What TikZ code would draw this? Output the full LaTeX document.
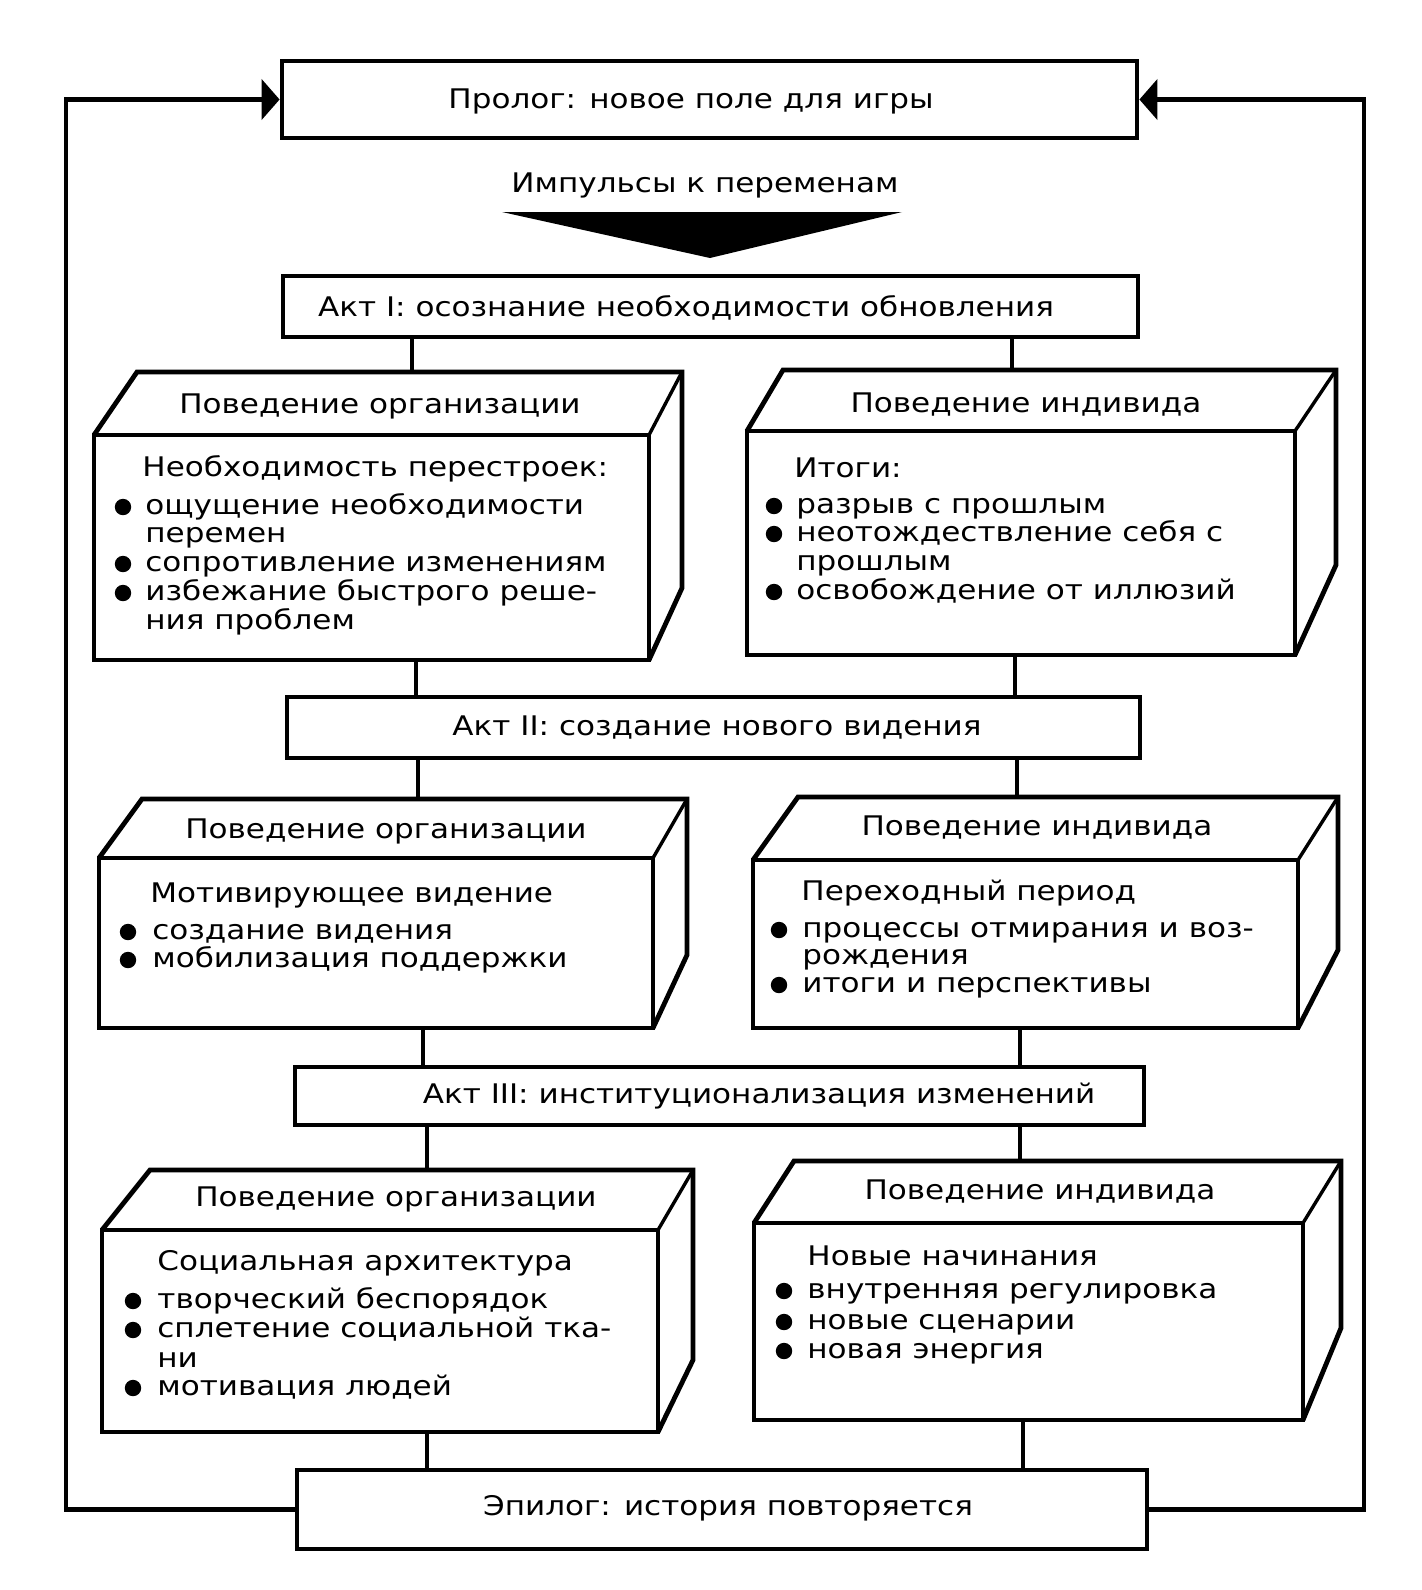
\documentclass[tikz,border=0pt]{standalone}
\usepackage{fontspec}
\setmainfont{DejaVu Sans}[FakeStretch=1.15]
\usetikzlibrary{arrows.meta}
\tikzset{
  frame/.style={draw, line width=2.4pt, inner sep=0pt},
  edgein/.style={line width=1.7pt},
  edgeout/.style={line width=2.4pt, line join=miter},
  link/.style={line width=2.4pt},
  loop/.style={line width=2.4pt, line join=miter, -{Triangle[length=9pt,width=20pt]}},
  txt/.style={inner sep=0pt, font=\fontsize{13.5}{16}\selectfont},
  bul/.style={fill=black}
}
% name, x1, y1, x2, y2 (front face), back top y, back left x, back right x, back right bottom y
\newcommand\tdbox[9]{%
  \node[frame, minimum width={(#4-#2)*0.5pt}, minimum height={(#5-#3)*0.5pt}] (#1) at ({(#2+#4)/2},{(#3+#5)/2}) {};
  \draw[edgeout] (#2,#3) -- (#7,#6) -- (#8,#6) -- (#8,#9) -- (#4,#5);
  \draw[edgein] (#4,#3) -- (#8,#6);
}
\newcommand\plainbox[5]{%
  \node[frame, minimum width={(#4-#2)*0.5pt}, minimum height={(#5-#3)*0.5pt}] (#1) at ({(#2+#4)/2},{(#3+#5)/2}) {};
}
\newcommand\bdot[2]{\fill[bul] (#1,#2) circle [radius=4.1pt];}
\begin{document}
\begin{tikzpicture}[x=0.5pt, y=-0.5pt]
\useasboundingbox (0,0) rectangle (1421,1590);

% main boxes
\plainbox{pro}{282}{61}{1137}{138}
\plainbox{act1}{283}{276}{1138}{337}
\plainbox{act2}{287}{697}{1140}{758}
\plainbox{act3}{295}{1067}{1144}{1125}
\plainbox{epi}{297}{1470}{1147}{1549}

% 3D boxes
\tdbox{org1}{94}{435}{649}{660}{372}{137}{682}{588}
\tdbox{ind1}{747}{431}{1295}{655}{370}{783}{1336}{565}
\tdbox{org2}{99}{858}{653}{1028}{799}{142}{687}{955}
\tdbox{ind2}{753}{860}{1298}{1028}{797}{798}{1338}{950}
\tdbox{org3}{102}{1230}{658}{1432}{1170}{150}{693}{1360}
\tdbox{ind3}{754}{1223}{1303}{1420}{1161}{794}{1341}{1328}

% connector anchor coordinates on the boxes
\coordinate (o1t) at (412,372);  \coordinate (i1t) at (1012,370);
\coordinate (o1b) at (416,660);  \coordinate (i1b) at (1015,655);
\coordinate (o2t) at (418,799);  \coordinate (i2t) at (1017,797);
\coordinate (o2b) at (423,1028); \coordinate (i2b) at (1020,1028);
\coordinate (o3t) at (427,1170); \coordinate (i3t) at (1020,1161);
\coordinate (o3b) at (427,1432); \coordinate (i3b) at (1023,1420);

\draw[link] (o1t |- act1.south) -- (o1t);
\draw[link] (i1t |- act1.south) -- (i1t);
\draw[link] (o1b) -- (o1b |- act2.north);
\draw[link] (i1b) -- (i1b |- act2.north);
\draw[link] (o2t |- act2.south) -- (o2t);
\draw[link] (i2t |- act2.south) -- (i2t);
\draw[link] (o2b) -- (o2b |- act3.north);
\draw[link] (i2b) -- (i2b |- act3.north);
\draw[link] (o3t |- act3.south) -- (o3t);
\draw[link] (i3t |- act3.south) -- (i3t);
\draw[link] (o3b) -- (o3b |- epi.north);
\draw[link] (i3b) -- (i3b |- epi.north);

% feedback loops
\coordinate (lx) at (66,0);
\coordinate (rx) at (1364,0);
\draw[loop] (epi.west) -| (lx |- pro.west) -- (pro.west);
\draw[loop] (epi.east) -| (rx |- pro.east) -- (pro.east);

% big arrow
\fill (502,212) -- (902,212) -- (710,258) -- cycle;

% texts
\node[txt, anchor=base] (tpro) at (691,108) {Пролог: новое поле для игры};
\node[txt, anchor=base] (timp) at (705,192) {Импульсы к переменам};
\node[txt, anchor=base] (tact1) at (686,316) {Акт I: осознание необходимости обновления};
\node[txt, anchor=base] (tact2) at (717,735) {Акт II: создание нового видения};
\node[txt, anchor=base] (tact3) at (759,1103) {Акт III: институционализация изменений};
\node[txt, anchor=base] (tepi) at (728,1515) {Эпилог: история повторяется};

% box 1 left
\node[txt, anchor=base] (o1h) at (380,413) {Поведение организации};
\node[txt, anchor=base west] (o1a) at (142,476) {Необходимость перестроек:};
\node[txt, anchor=base west] (o1b1) at (145,514) {ощущение необходимости};
\node[txt, anchor=base west] (o1b2) at (145,542) {перемен};
\node[txt, anchor=base west] (o1b3) at (145,571) {сопротивление изменениям};
\node[txt, anchor=base west] (o1b4) at (145,600) {избежание быстрого реше-};
\node[txt, anchor=base west] (o1b5) at (145,629) {ния проблем};
\bdot{123}{507}\bdot{123}{564}\bdot{123}{593}

% box 1 right
\node[txt, anchor=base] (i1h) at (1026,412) {Поведение индивида};
\node[txt, anchor=base west] (i1a) at (794,477) {Итоги:};
\node[txt, anchor=base west] (i1b1) at (796,513) {разрыв с прошлым};
\node[txt, anchor=base west] (i1b2) at (796,541) {неотождествление себя с};
\node[txt, anchor=base west] (i1b3) at (796,570) {прошлым};
\node[txt, anchor=base west] (i1b4) at (796,599) {освобождение от иллюзий};
\bdot{774}{506}\bdot{774}{534}\bdot{774}{592}

% box 2 left
\node[txt, anchor=base] (o2h) at (386,838) {Поведение организации};
\node[txt, anchor=base west] (o2a) at (150,902) {Мотивирующее видение};
\node[txt, anchor=base west] (o2b1) at (152,939) {создание видения};
\node[txt, anchor=base west] (o2b2) at (152,967) {мобилизация поддержки};
\bdot{128}{932}\bdot{128}{960}

% box 2 right
\node[txt, anchor=base] (i2h) at (1037,835) {Поведение индивида};
\node[txt, anchor=base west] (i2a) at (801,900) {Переходный период};
\node[txt, anchor=base west] (i2b1) at (802,937) {процессы отмирания и воз-};
\node[txt, anchor=base west] (i2b2) at (802,964) {рождения};
\node[txt, anchor=base west] (i2b3) at (802,992) {итоги и перспективы};
\bdot{779}{930}\bdot{779}{985}

% box 3 left
\node[txt, anchor=base] (o3h) at (396,1206) {Поведение организации};
\node[txt, anchor=base west] (o3a) at (157,1270) {Социальная архитектура};
\node[txt, anchor=base west] (o3b1) at (157,1308) {творческий беспорядок};
\node[txt, anchor=base west] (o3b2) at (157,1337) {сплетение социальной тка-};
\node[txt, anchor=base west] (o3b3) at (157,1367) {ни};
\node[txt, anchor=base west] (o3b4) at (157,1395) {мотивация людей};
\bdot{133}{1301}\bdot{133}{1330}\bdot{133}{1388}

% box 3 right
\node[txt, anchor=base] (i3h) at (1040,1199) {Поведение индивида};
\node[txt, anchor=base west] (i3a) at (807,1265) {Новые начинания};
\node[txt, anchor=base west] (i3b1) at (807,1298) {внутренняя регулировка};
\node[txt, anchor=base west] (i3b2) at (807,1329) {новые сценарии};
\node[txt, anchor=base west] (i3b3) at (807,1358) {новая энергия};
\bdot{784}{1291}\bdot{784}{1322}\bdot{784}{1351}
\end{tikzpicture}
\end{document}
